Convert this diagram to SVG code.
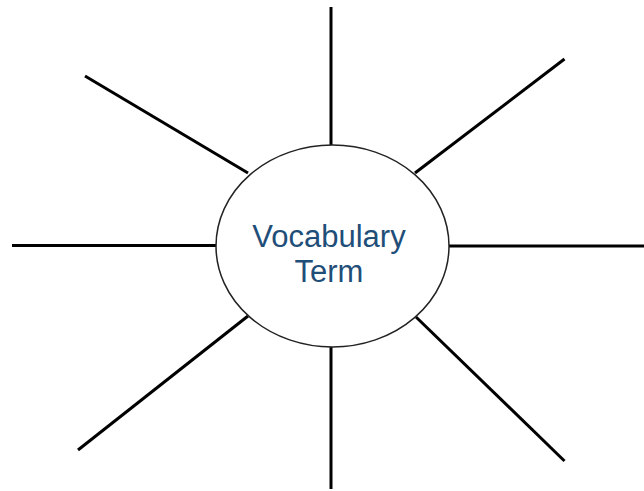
<svg xmlns="http://www.w3.org/2000/svg" width="644" height="491" viewBox="0 0 644 491">
<style>
.spoke{stroke:#000;stroke-width:3;fill:none;}
.oval{fill:#fff;stroke:#222;stroke-width:1.5;}
.lbl{font-family:"Liberation Sans",Arial,sans-serif;font-size:31px;fill:#1F4E79;text-anchor:middle;}
</style>
<rect width="644" height="491" fill="#fff"/>
<g id="connectors">
<line class="spoke" x1="331" y1="7" x2="331" y2="145"/>
<line class="spoke" x1="331" y1="347" x2="331" y2="489"/>
<line class="spoke" x1="12" y1="245.5" x2="216" y2="245.5"/>
<line class="spoke" x1="449" y1="246" x2="644" y2="246"/>
<line class="spoke" x1="85" y1="76" x2="248" y2="173"/>
<line class="spoke" x1="564.5" y1="59" x2="415" y2="173"/>
<line class="spoke" x1="78" y1="450" x2="248" y2="316"/>
<line class="spoke" x1="416" y1="317" x2="564.5" y2="461"/>
</g>
<g id="term">
<ellipse class="oval" cx="332.5" cy="246" rx="116.5" ry="101"/>
<text class="lbl" x="329" y="247">Vocabulary</text>
<text class="lbl" x="329" y="282">Term</text>
</g>
</svg>
